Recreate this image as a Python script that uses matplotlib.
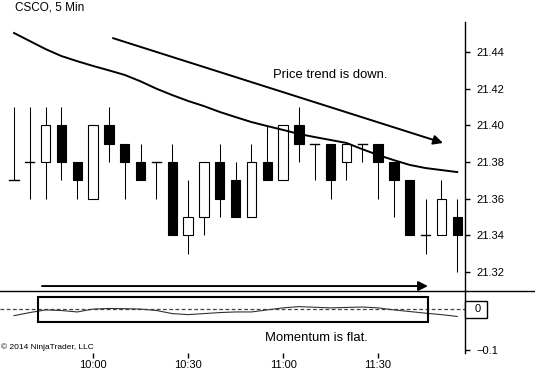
import matplotlib
matplotlib.use("Agg")
import matplotlib.pyplot as plt
from matplotlib.patches import Rectangle
from matplotlib.lines import Line2D

plt.rcParams['font.family'] = ['Liberation Sans', 'DejaVu Sans']

# ---- data ----
times = ["9:35", "9:40", "9:45", "9:50", "9:55", "10:00", "10:05", "10:10", "10:15", "10:20",
         "10:25", "10:30", "10:35", "10:40", "10:45", "10:50", "10:55", "11:00", "11:05", "11:10",
         "11:15", "11:20", "11:25", "11:30", "11:35", "11:40", "11:45", "11:50", "11:55"]
opens  = [21.37, 21.38, 21.38, 21.40, 21.38, 21.36, 21.40, 21.39, 21.38, 21.38,
          21.38, 21.34, 21.35, 21.38, 21.37, 21.35, 21.38, 21.37, 21.40, 21.39,
          21.39, 21.38, 21.39, 21.39, 21.38, 21.37, 21.34, 21.34, 21.35]
highs  = [21.41, 21.41, 21.41, 21.41, 21.38, 21.40, 21.41, 21.39, 21.39, 21.38,
          21.39, 21.37, 21.38, 21.39, 21.38, 21.39, 21.40, 21.40, 21.41, 21.39,
          21.39, 21.39, 21.39, 21.39, 21.38, 21.37, 21.36, 21.37, 21.36]
lows   = [21.37, 21.36, 21.36, 21.37, 21.36, 21.36, 21.38, 21.36, 21.37, 21.36,
          21.34, 21.33, 21.34, 21.35, 21.35, 21.35, 21.37, 21.37, 21.38, 21.37,
          21.36, 21.37, 21.38, 21.36, 21.35, 21.34, 21.33, 21.34, 21.32]
closes = [21.37, 21.38, 21.40, 21.38, 21.37, 21.40, 21.39, 21.38, 21.37, 21.38,
          21.34, 21.35, 21.38, 21.36, 21.35, 21.38, 21.37, 21.40, 21.39, 21.39,
          21.37, 21.39, 21.39, 21.38, 21.37, 21.34, 21.34, 21.36, 21.34]
moving_avg = [21.4504, 21.4460, 21.4416, 21.4378, 21.4350, 21.4324, 21.4300, 21.4275, 21.4240, 21.4200,
              21.4165, 21.4133, 21.4105, 21.4073, 21.4045, 21.4018, 21.3996, 21.3975, 21.3953, 21.3936,
              21.3920, 21.3904, 21.3870, 21.3838, 21.3810, 21.3784, 21.3767, 21.3756, 21.3745]
momentum = [-0.015, -0.0075, -0.001, -0.0025, -0.006, 0.001, 0.0025, 0.002, 0.001, -0.0025,
            -0.010, -0.0125, -0.010, -0.0075, -0.006, -0.006, -0.001, 0.004, 0.007, 0.0055,
            0.004, 0.005, 0.006, 0.004, -0.001, -0.005, -0.009, -0.0125, -0.017]
price_ticks = [21.32, 21.34, 21.36, 21.38, 21.40, 21.42, 21.44]
time_tick_labels = ["10:00", "10:30", "11:00", "11:30"]

W, H = 535, 373
fig = plt.figure(figsize=(W / 100, H / 100), dpi=100)

def fy(py):
    return 1 - py / H

ax = fig.add_axes([0, fy(291), 465 / W, fy(22) - fy(291)])
ax2 = fig.add_axes([0, fy(353), 465 / W, fy(291) - fy(353)])

xs = list(range(len(times)))
bw = 0.59
for i in xs:
    o, h, l, c = opens[i], highs[i], lows[i], closes[i]
    top, bot = max(o, c), min(o, c)
    ax.plot([i, i], [l, h], color='black', lw=0.75, zorder=2, solid_capstyle='butt')
    if o == c:
        ax.plot([i - bw / 2, i + bw / 2], [o, o], color='black', lw=1.0, zorder=3)
    else:
        face = 'white' if c > o else 'black'
        ax.add_patch(Rectangle((i - bw / 2, bot), bw, top - bot, facecolor=face,
                               edgecolor='black', lw=0.8, zorder=3))

ax.plot(xs, moving_avg, color='black', lw=1.4, zorder=4)

xmin, xmax = -0.884, 28.49
ax.set_xlim(xmin, xmax)
ax.set_ylim(21.3096, 21.4564)
for s in ['top', 'left', 'bottom']:
    ax.spines[s].set_visible(False)
ax.spines['right'].set_linewidth(1.0)
ax.yaxis.tick_right()
ax.set_yticks(price_ticks)
ax.set_yticklabels([f"{v:.2f}" for v in price_ticks])
ax.tick_params(axis='y', direction='out', length=3.5, width=1, labelsize=8, pad=5)
ax.set_xticks([])

# annotations in price panel
ax.annotate('', xy=(27.1, 21.3904), xytext=(6.25, 21.4476),
            arrowprops=dict(arrowstyle='-|>', lw=1.4, color='black', mutation_scale=14,
                            shrinkA=0, shrinkB=0))
ax.annotate('', xy=(26.15, 21.3123), xytext=(1.77, 21.3123),
            arrowprops=dict(arrowstyle='-|>', lw=1.4, color='black', mutation_scale=14,
                            shrinkA=0, shrinkB=0))
ax.text(19.96, 21.4275, "Price trend is down.", ha='center', va='center', fontsize=9.4)

# momentum panel
ax2.plot(xs, momentum, color='#333333', lw=0.8, zorder=3)
ax2.axhline(0, color='#444444', lw=0.9, ls=(0, (3, 2)), zorder=2)
ax2.set_xlim(xmin, xmax)
ax2.set_ylim(-0.1061, 0.0451)
for s in ['top', 'left', 'bottom']:
    ax2.spines[s].set_visible(False)
ax2.spines['right'].set_linewidth(1.0)
ax2.yaxis.tick_right()
ax2.set_yticks([0, -0.1])
ax2.set_yticklabels(['', '\u22120.1'])
ax2.tick_params(axis='y', direction='out', length=3.5, width=1, labelsize=8, pad=5)
ax2.set_xticks([5, 11, 17, 23])
ax2.set_xticklabels(time_tick_labels)
ax2.tick_params(axis='x', direction='out', length=3.5, width=1, labelsize=8, pad=1.5)
ax2.add_patch(Rectangle((1.52, -0.0305), 26.15 - 1.52, 0.061, fill=False,
                        edgecolor='black', lw=1.5, zorder=4))
ax2.text(19.08, -0.0707, "Momentum is flat.", ha='center', va='center', fontsize=9.4)

# boxed zero label
fig.add_artist(Rectangle((465 / W, fy(318)), 22 / W, 17 / H, transform=fig.transFigure,
                         facecolor='white', edgecolor='black', lw=1.0))
fig.text(478 / W, fy(309.5), "0", ha='center', va='center', fontsize=8)

fig.add_artist(Line2D([0, 1], [fy(291), fy(291)], transform=fig.transFigure, color='black', lw=1.0))

fig.text(15 / W, fy(8), "CSCO, 5 Min", ha='left', va='center', fontsize=8.5)
fig.text(0.002, fy(347), "\u00a9 2014 NinjaTrader, LLC", ha='left', va='center', fontsize=6)

fig.savefig("out.png", dpi=100)
